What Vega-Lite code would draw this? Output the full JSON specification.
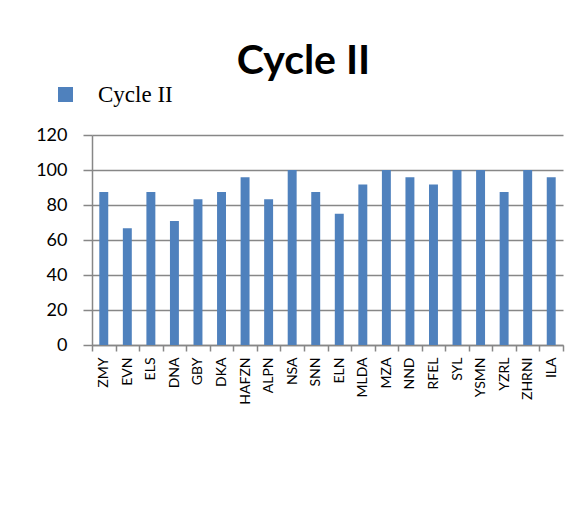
{
  "$schema": "https://vega.github.io/schema/vega-lite/v6.json",
  "autosize": "none",
  "width": 471,
  "height": 210,
  "padding": {"left": 92, "top": 135, "right": 21, "bottom": 186},
  "background": "white",
  "title": {
    "text": "Cycle II",
    "font": "Lato",
    "fontSize": 41,
    "fontWeight": "bold",
    "color": "black",
    "anchor": "middle",
    "dx": -24,
    "offset": 0
  },
  "data": {
    "values": [
      {"student": "ZMY", "score": 87.5},
      {"student": "EVN", "score": 66.7},
      {"student": "ELS", "score": 87.5},
      {"student": "DNA", "score": 70.8},
      {"student": "GBY", "score": 83.3},
      {"student": "DKA", "score": 87.5},
      {"student": "HAFZN", "score": 95.8},
      {"student": "ALPN", "score": 83.3},
      {"student": "NSA", "score": 100},
      {"student": "SNN", "score": 87.5},
      {"student": "ELN", "score": 75},
      {"student": "MLDA", "score": 91.7},
      {"student": "MZA", "score": 100},
      {"student": "NND", "score": 95.8},
      {"student": "RFEL", "score": 91.7},
      {"student": "SYL", "score": 100},
      {"student": "YSMN", "score": 100},
      {"student": "YZRL", "score": 87.5},
      {"student": "ZHRNI", "score": 100},
      {"student": "ILA", "score": 95.8}
    ]
  },
  "mark": {"type": "bar", "width": {"band": 0.38}},
  "encoding": {
    "x": {
      "field": "student",
      "type": "nominal",
      "sort": null,
      "scale": {"paddingInner": 0, "paddingOuter": 0},
      "axis": {
        "title": null,
        "labelAngle": -90,
        "labelAlign": "right",
        "labelBaseline": "middle",
        "labelFont": "Lato",
        "labelFontSize": 14,
        "labelColor": "black",
        "labelPadding": 6,
        "tickBand": "extent",
        "tickSize": 6,
        "tickColor": "#878787",
        "tickWidth": 1.5,
        "domainColor": "#878787",
        "domainWidth": 1.5,
        "grid": false
      }
    },
    "y": {
      "field": "score",
      "type": "quantitative",
      "scale": {"domain": [0, 120]},
      "axis": {
        "title": null,
        "values": [0, 20, 40, 60, 80, 100, 120],
        "labelFont": "Lato",
        "labelFontSize": 18,
        "labelColor": "black",
        "labelPadding": 16,
        "tickSize": 9,
        "tickColor": "#878787",
        "tickWidth": 1.5,
        "domainColor": "#878787",
        "domainWidth": 1.5,
        "grid": true,
        "gridColor": "#878787",
        "gridWidth": 1.5
      }
    },
    "color": {
      "datum": "Cycle II",
      "type": "nominal",
      "scale": {"range": ["#4F81BD"]},
      "legend": {
        "title": null,
        "orient": "none",
        "legendX": -38,
        "legendY": -52,
        "symbolType": "square",
        "symbolSize": 225,
        "symbolStrokeWidth": 0,
        "labelFont": "Liberation Serif",
        "labelFontSize": 23,
        "labelColor": "black",
        "labelOffset": 21
      }
    }
  },
  "config": {
    "view": {"stroke": null}
  }
}
